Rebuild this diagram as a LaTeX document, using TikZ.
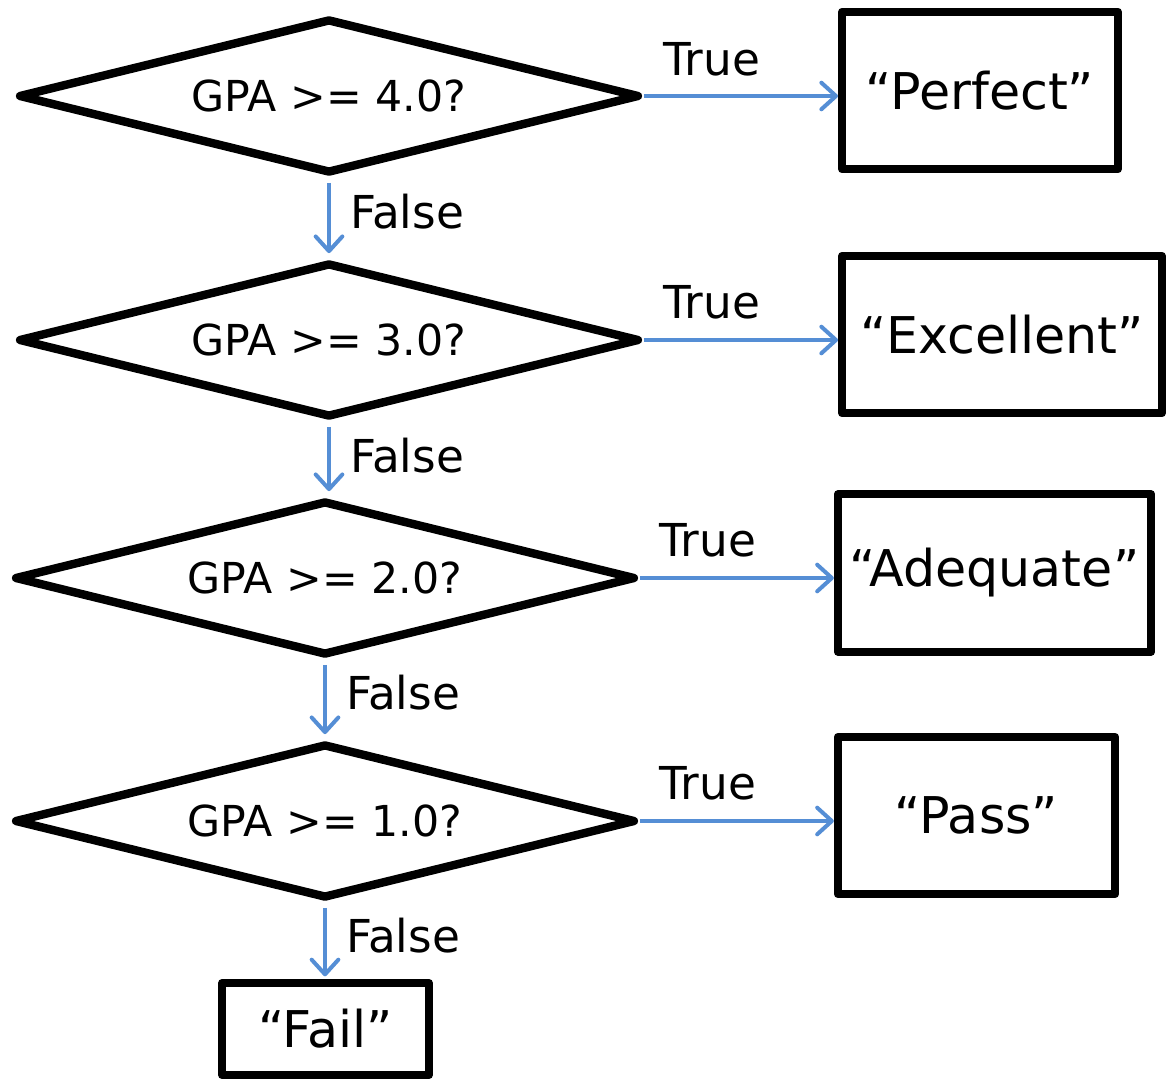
\documentclass[tikz,border=0pt]{standalone}
\usepackage{fontspec}
\setmainfont{DejaVu Sans}
\usetikzlibrary{shapes.geometric,arrows.meta}
\definecolor{arrowblue}{RGB}{85,142,213}
\tikzset{
  decision/.style={diamond, draw=black, line width=6.3pt, line join=round, aspect=4,
    minimum width=466pt, minimum height=116pt, inner sep=0pt,
    font=\fontsize{32}{38}\selectfont},
  outbox/.style={rectangle, draw=black, line width=6pt, line join=round, inner sep=0pt,
    minimum height=118pt, font=\fontsize{38}{44}\selectfont},
  flow/.style={draw=arrowblue, line width=3pt,
    -{Straight Barb[length=11pt,width=20pt,line cap=round,line join=round]}},
  lbl/.style={anchor=base, inner sep=0pt, font=\fontsize{34}{40}\selectfont}
}
\begin{document}
\begin{tikzpicture}[x=0.75pt,y=-0.75pt]
\useasboundingbox (0,0) rectangle (1167,1079);
% decisions
\node[decision] (d1) at (329,96) {GPA >= 4.0?};
\node[decision] (d2) at (329,340) {GPA >= 3.0?};
\node[decision] (d3) at (325,578) {GPA >= 2.0?};
\node[decision] (d4) at (325,821) {GPA >= 1.0?};
% outcomes
\node[outbox, minimum width=207pt] (b1) at (980,90.5) {“Perfect”};
\node[outbox, minimum width=240pt] (b2) at (1002,334.5) {“Excellent”};
\node[outbox, minimum width=235pt] (b3) at (994.5,573) {“Adequate”};
\node[outbox, minimum width=208pt] (b4) at (976.5,815.5) {“Pass”};
\node[outbox, minimum width=155pt, minimum height=69pt] (b5) at (325.5,1029) {“Fail”};
% true arrows
\draw[flow] (d1.east) -- (d1.east -| b1.west);
\draw[flow] (d2.east) -- (d2.east -| b2.west);
\draw[flow] (d3.east) -- (d3.east -| b3.west);
\draw[flow] (d4.east) -- (d4.east -| b4.west);
% false arrows
\draw[flow, shorten <=4pt, shorten >=4pt] (d1.south) -- (d2.north);
\draw[flow, shorten <=4pt, shorten >=4pt] (d2.south) -- (d2.south |- d3.north);
\draw[flow, shorten <=4pt, shorten >=4pt] (d3.south) -- (d4.north);
\draw[flow, shorten <=4pt, shorten >=2pt] (d4.south) -- (d4.south |- b5.north);
% labels
\node[lbl] (t1) at (712,75) {True};
\node[lbl] (t2) at (712,318) {True};
\node[lbl] (t3) at (708,556) {True};
\node[lbl] (t4) at (708,799) {True};
\node[lbl] (f1) at (407,228) {False};
\node[lbl] (f2) at (407,472) {False};
\node[lbl] (f3) at (403,709) {False};
\node[lbl] (f4) at (403,952) {False};
\end{tikzpicture}
\end{document}
